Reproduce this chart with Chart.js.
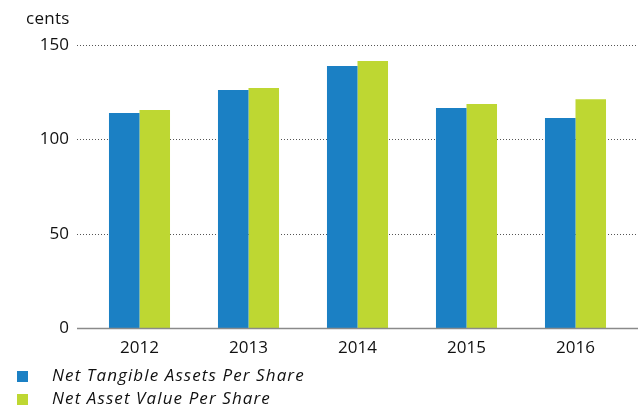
<!DOCTYPE html>
<html><head><meta charset="utf-8">
<script src="https://cdn.jsdelivr.net/npm/chart.js@4/dist/chart.umd.min.js"></script>
<style>
html,body{margin:0;padding:0;background:#fff;}
#wrap{position:relative;width:638px;height:410px;font-family:"Open Sans",sans-serif;color:#111;}
#c{position:absolute;left:0;top:0;}
#unit{position:absolute;left:26px;top:6px;font-size:17px;font-weight:500;letter-spacing:0.3px;}
.leg{position:absolute;left:17px;font-size:17px;font-style:italic;white-space:nowrap;font-weight:500;letter-spacing:1.1px;}
.leg span.sw{position:absolute;left:0;top:5px;width:11px;height:11px;}
.leg span.tx{position:absolute;left:35px;top:-3px;}
</style></head><body>
<div id="wrap">
<canvas id="c" width="638" height="410"></canvas>
<div id="unit">cents</div>
<div class="leg" style="top:366px"><span class="sw" style="background:#1b80c4"></span><span class="tx">Net Tangible Assets Per Share</span></div>
<div class="leg" style="top:389px"><span class="sw" style="background:#bed732"></span><span class="tx">Net Asset Value Per Share</span></div>
</div>
<script>
const categories = ["2012","2013","2014","2015","2016"];
const seriesNames = ["Net Tangible Assets Per Share","Net Asset Value Per Share"];
const ntaValues = [113.9,126.1,138.9,116.6,111.3];
const navValues = [115.5,127.2,141.5,118.7,121.3];
const yTicks = [0,50,100,150];

const gridPlugin = {
  id:'gridPlugin',
  beforeDatasetsDraw(chart){
    const ctx = chart.ctx, y = chart.scales.y;
    ctx.save();
    yTicks.forEach(v=>{
      if(v===0) return;
      const py = Math.round(y.getPixelForValue(v))+0.5;
      ctx.strokeStyle='#555';
      ctx.lineWidth=1;
      ctx.setLineDash([1,2]);
      ctx.beginPath();ctx.moveTo(77,py);ctx.lineTo(638,py);ctx.stroke();
    });
    ctx.restore();
  },
  afterDatasetsDraw(chart){
    const ctx = chart.ctx, y = chart.scales.y;
    const py = y.getPixelForValue(0)+0.5;
    ctx.save();
    ctx.strokeStyle='#8a8a8a';ctx.lineWidth=1.5;ctx.setLineDash([]);
    ctx.beginPath();ctx.moveTo(77,py);ctx.lineTo(638,py);ctx.stroke();
    ctx.restore();
  }
};

new Chart(document.getElementById('c'),{
  type:'bar',
  data:{labels:categories,datasets:[
    {label:seriesNames[0],data:ntaValues,backgroundColor:'#1b80c4',barPercentage:1,categoryPercentage:0.56},
    {label:seriesNames[1],data:navValues,backgroundColor:'#bed732',barPercentage:1,categoryPercentage:0.56}
  ]},
  options:{
    responsive:false,animation:false,
    layout:{padding:{top:45,right:8,bottom:52,left:0}},
    plugins:{legend:{display:false},tooltip:{enabled:false}},
    scales:{
      x:{grid:{display:false},border:{display:false},
         ticks:{color:'#111',font:{family:'Open Sans',size:17,weight:'500'},padding:2},
         afterFit(s){s.height=30;}},
      y:{min:0,max:150,grid:{display:false},border:{display:false},
         afterBuildTicks(s){s.ticks=yTicks.map(v=>({value:v}));},
         ticks:{color:'#111',font:{family:'Open Sans',size:17,weight:'500'},padding:8},
         afterFit(s){s.width=85;}}
    }
  },
  plugins:[gridPlugin]
});
</script>
</body></html>
